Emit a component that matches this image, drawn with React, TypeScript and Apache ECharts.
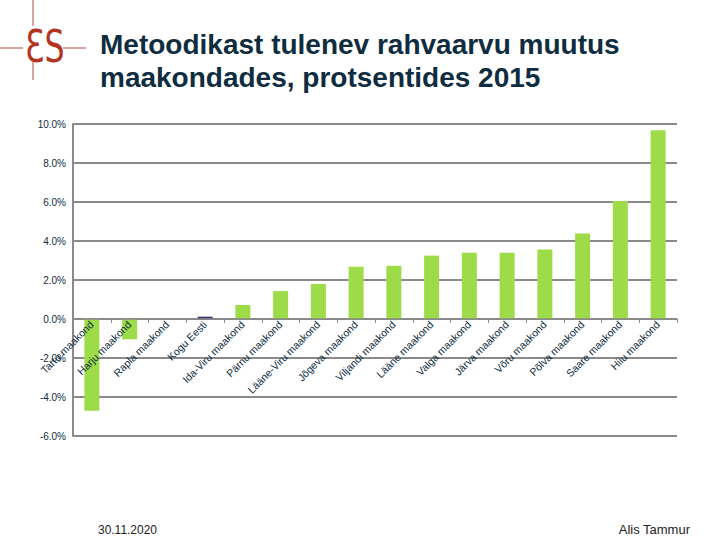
import React, { useEffect, useRef } from "react";
import * as echarts from "echarts";

const categories = [
  "Tartu maakond",
  "Harju maakond",
  "Rapla maakond",
  "Kogu Eesti",
  "Ida-Viru maakond",
  "Pärnu maakond",
  "Lääne-Viru maakond",
  "Jõgeva maakond",
  "Viljandi maakond",
  "Lääne maakond",
  "Valga maakond",
  "Järva maakond",
  "Võru maakond",
  "Põlva maakond",
  "Saare maakond",
  "Hiiu maakond",
];
const values = [-4.7, -1.04, 0, 0.12, 0.72, 1.43, 1.8, 2.68, 2.73, 3.25, 3.4, 3.4, 3.56, 4.38, 6.05, 9.68];
const highlightCategory = "Kogu Eesti";

const yMin = -6;
const yMax = 10;
const yInterval = 2;

const titleLines = ["Metoodikast tulenev rahvaarvu muutus", "maakondades, protsentides 2015"];
const footerLeft = "30.11.2020";
const footerRight = "Alis Tammur";

export default function App() {
  const ref = useRef<HTMLDivElement>(null);
  useEffect(() => {
    if (!ref.current) return;
    const chart = echarts.init(ref.current, null, { renderer: "svg" });
    const textColor = "#0f2d40";
    const gridTop = 124;
    const gridBottom = 104;
    const gridHeight = 540 - gridTop - gridBottom;
    const zeroOffset = (gridHeight * (0 - yMin)) / (yMax - yMin);
    chart.setOption({
      animation: false,
      backgroundColor: "#ffffff",
      grid: { left: 73, right: 43, top: gridTop, bottom: gridBottom, containLabel: false },
      xAxis: {
        type: "category",
        data: categories,
        position: "bottom",
        offset: -zeroOffset,
        z: 5,
        axisLine: { onZero: false, lineStyle: { color: "#8a8a8a", width: 1.5 } },
        axisTick: { show: true, length: 4, lineStyle: { color: "#8a8a8a", width: 1 } },
        axisLabel: {
          rotate: 45,
          interval: 0,
          color: textColor,
          fontSize: 10.5,
          fontFamily: "Liberation Sans, Arial, sans-serif",
          margin: 4,
        },
        splitLine: { show: false },
      },
      yAxis: {
        type: "value",
        min: yMin,
        max: yMax,
        interval: yInterval,
        axisLine: { show: true, lineStyle: { color: "#8a8a8a", width: 2 } },
        axisTick: { show: false },
        axisLabel: {
          color: textColor,
          fontSize: 10,
          fontFamily: "Liberation Sans, Arial, sans-serif",
          margin: 7,
          formatter: (v: number) => v.toFixed(1) + "%",
        },
        splitLine: { show: true, lineStyle: { color: "#8a8a8a", width: 2 } },
      },
      series: [
        {
          type: "bar",
          data: values.map((v, i) => ({
            value: v,
            itemStyle: { color: categories[i] === highlightCategory ? "#3a3a78" : "#9ddc48" },
          })),
          barWidth: 15,
        },
      ],
      graphic: [
        { type: "line", shape: { x1: 33, y1: 0, x2: 33, y2: 80 }, style: { stroke: "#a8513a", lineWidth: 1 } },
        { type: "line", shape: { x1: 0, y1: 48, x2: 86, y2: 48 }, style: { stroke: "#a8513a", lineWidth: 1 } },
        {
          type: "rect",
          shape: { x: 23, y: 26, width: 40, height: 36 },
          style: { fill: "#ffffff" },
        },
        {
          type: "text",
          x: 25,
          y: 25,
          scaleX: 0.72,
          style: {
            text: "ƐS",
            fill: "#b3341f",
            font: "normal 44px 'DejaVu Sans', sans-serif",
          },
        },
        {
          type: "text",
          x: 100,
          y: 28,
          style: {
            text: titleLines.join("\n"),
            fill: "#0f2d40",
            font: "bold 28px 'Liberation Sans', Arial, sans-serif",
            lineHeight: 33,
          },
        },
        {
          type: "text",
          x: 98,
          y: 523,
          scaleX: 0.92,
          style: {
            text: footerLeft,
            fill: "#222222",
            font: "13px 'Liberation Sans', Arial, sans-serif",
          },
        },
        {
          type: "text",
          x: 690,
          y: 523,
          style: {
            text: footerRight,
            fill: "#222222",
            align: "right",
            font: "13px 'Liberation Sans', Arial, sans-serif",
          },
        },
      ],
    });
    return () => chart.dispose();
  }, []);
  return <div ref={ref} style={{ width: 720, height: 540, position: "absolute", left: 0, top: 0 }} />;
}
